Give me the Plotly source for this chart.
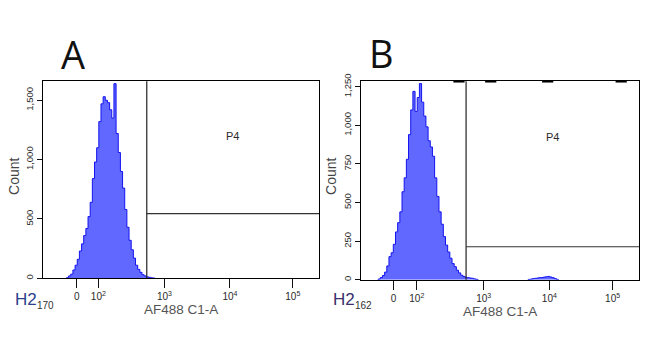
import numpy as np
import plotly.graph_objects as go

# ---------------------------------------------------------------
# Histogram data: counts per display channel (128 channels across
# the biexponential AF488 axis)
# ---------------------------------------------------------------
N_CH = 128

a_start = 11
a_counts = [5, 20, 35, 70, 110, 160, 230, 290, 360, 420,
            520, 640, 840, 980, 1100, 1320, 1470, 1530, 1500, 1480,
            1420, 1350, 1640, 1220, 1060, 900, 760, 580, 430, 320,
            240, 170, 110, 75, 50, 30, 20, 12, 8, 4, 2]

b_start = 8
b_counts = [5, 15, 28, 50, 90, 150, 175, 230, 310, 370,
            440, 570, 660, 780, 940, 1100, 1220, 1090, 1180, 1270,
            1150, 1060, 990, 900, 860, 800, 660, 540, 440, 360,
            280, 225, 180, 140, 105, 85, 62, 45, 30, 22,
            16, 14, 12, 10, 6, 3]

b2_start = 77
b2_counts = [3, 5, 8, 10, 12, 14, 15, 18, 20, 22, 18, 14, 8, 3]

# off-scale event markers along the top of panel B (channel)
b_top_marks = [45.2, 59.8, 86.0, 119.8]

# P4 gate: lower bound (data units) and marker height (counts)
gate_low = 560
gate_height_a = 545
gate_height_b = 214

# axis settings
y_max_a = 1660
y_max_b = 1285
major_vals = [0, 100, 1000, 10000, 100000]
major_text = ["0", "10<sup>2</sup>", "10<sup>3</sup>", "10<sup>4</sup>", "10<sup>5</sup>"]
minor_vals = ([-v for v in range(10, 101, 10)] + list(range(10, 100, 10))
              + list(range(200, 1000, 100)) + list(range(2000, 10000, 1000))
              + list(range(20000, 100000, 10000)) + [200000])


# ---------------------------------------------------------------
# Logicle (biexponential) display transform
# ---------------------------------------------------------------
def logicle(T=262144.0, W=0.5, M=4.42, A=0.0):
    w = W / (M + A)
    x2 = A / (M + A)
    x1 = x2 + w
    x0 = x2 + 2 * w
    b = (M + A) * np.log(10)
    lo, hi = 1e-9, b
    for _ in range(200):
        mid = 0.5 * (lo + hi)
        if 2 * (np.log(mid) - np.log(b)) + w * (b + mid) > 0:
            hi = mid
        else:
            lo = mid
    d = 0.5 * (lo + hi)
    c_a = np.exp(x0 * (b + d))
    mf_a = np.exp(b * x1) - c_a / np.exp(d * x1)
    a = T / ((np.exp(b) - mf_a) - c_a / np.exp(d))
    c = c_a * a
    f = -mf_a * a

    def S(x):
        x = np.asarray(x, float)
        xr = np.where(x >= x1, x, 2 * x1 - x)
        val = a * np.exp(b * xr) - c * np.exp(-d * xr) + f
        return np.where(x >= x1, val, -val)

    grid = np.linspace(0.0, 1.0, 40001)
    sv = S(grid)

    def to_channel(v):
        return np.interp(np.asarray(v, float), sv, grid) * N_CH

    return to_channel


to_ch_a = logicle(W=0.545)
to_ch_b = logicle(W=0.52)


def step_xy(start, counts):
    xs = [start] + [start + i for i in range(len(counts) + 1)]
    ys = [0] + list(counts) + [0]
    return xs, ys


W_PX, H_PX = 650, 337


def px(xp):
    return xp / W_PX


def py(yp):
    return 1 - yp / H_PX


FILL = "rgba(96,104,255,1)"
EDGE = "#1414f0"
INK = "#2a2a2a"
TICK = "#111111"
FONT = "Liberation Sans, Arial, sans-serif"

# panel frames (pixels)
A_FRAME = dict(left=42.7, right=319, top=75.3, bottom=277.7)
B_FRAME = dict(left=360.7, right=639, top=75.3, bottom=279.3)

X_MAJOR_LEN, X_MINOR_LEN, Y_TICK_LEN = 9, 5, 5

fig = go.Figure()

for (start, counts, xa, ya) in [(a_start, a_counts, "x", "y"),
                                 (b_start, b_counts, "x2", "y2"),
                                 (b2_start, b2_counts, "x2", "y2")]:
    xs, ys = step_xy(start, counts)
    fig.add_trace(go.Scatter(x=xs, y=ys, mode="lines", line_shape="hv",
                             line=dict(color=EDGE, width=1), fill="tozeroy",
                             fillcolor=FILL, xaxis=xa, yaxis=ya,
                             showlegend=False, hoverinfo="skip"))

fig.add_trace(go.Scatter(x=b_top_marks, y=[y_max_b] * len(b_top_marks), mode="markers",
                         marker=dict(symbol="line-ew", size=8, line=dict(color="black", width=2.5)),
                         xaxis="x2", yaxis="y2", cliponaxis=False,
                         showlegend=False, hoverinfo="skip"))

# P4 gate lines
for to_ch, h, xr, yr in [(to_ch_a, gate_height_a, "x", "y"), (to_ch_b, gate_height_b, "x2", "y2")]:
    g = float(to_ch(gate_low))
    fig.add_shape(type="line", xref=xr, yref=yr + " domain", x0=g, x1=g, y0=0, y1=1,
                  line=dict(color="#222222", width=1.2))
    fig.add_shape(type="line", xref=xr, yref=yr, x0=g, x1=N_CH, y0=h, y1=h,
                  line=dict(color="#333333", width=1.1))


# ---------------------------------------------------------------
# Tick marks as line markers hanging outside the frame
# ---------------------------------------------------------------
def add_ticks(frame, to_ch, ymax, ystep, xa, ya):
    ppx_y = ymax / (frame["bottom"] - frame["top"])      # counts per pixel
    ppx_x = N_CH / (frame["right"] - frame["left"])      # channels per pixel
    for vals, ln in [(major_vals, X_MAJOR_LEN), (minor_vals, X_MINOR_LEN)]:
        xs = [float(v) for v in np.atleast_1d(to_ch(vals))]
        fig.add_trace(go.Scatter(
            x=xs, y=[-ln / 2 * ppx_y] * len(xs), mode="markers",
            marker=dict(symbol="line-ns", size=ln, line=dict(color=TICK, width=1.2)),
            xaxis=xa, yaxis=ya, cliponaxis=False, showlegend=False, hoverinfo="skip"))
    yv = list(range(0, ymax + 1, ystep))
    fig.add_trace(go.Scatter(
        x=[-Y_TICK_LEN / 2 * ppx_x] * len(yv), y=yv, mode="markers",
        marker=dict(symbol="line-ew", size=Y_TICK_LEN, line=dict(color=TICK, width=1.2)),
        xaxis=xa, yaxis=ya, cliponaxis=False, showlegend=False, hoverinfo="skip"))


add_ticks(A_FRAME, to_ch_a, y_max_a, 100, "x", "y")
add_ticks(B_FRAME, to_ch_b, y_max_b, 50, "x2", "y2")


def xaxis_cfg(frame, to_ch, anchor):
    return dict(domain=[px(frame["left"]), px(frame["right"])], anchor=anchor,
                range=[0, N_CH], showgrid=False,
                zeroline=False, showline=True, linecolor="black", linewidth=1, mirror=True,
                tickmode="array", tickvals=list(to_ch(major_vals)), ticktext=major_text,
                ticks="outside", ticklen=X_MAJOR_LEN, tickwidth=1, tickcolor=TICK,
                tickfont=dict(family=FONT, size=10, color=INK), fixedrange=True)


def yaxis_cfg(frame, ymax, dmaj, anchor):
    return dict(domain=[py(frame["bottom"]), py(frame["top"])], anchor=anchor,
                range=[0, ymax], showgrid=False,
                zeroline=False, showline=True, linecolor="black", linewidth=1, mirror=True,
                tickmode="linear", tick0=0, dtick=dmaj, tickformat=",d",
                ticks="outside", ticklen=Y_TICK_LEN, tickwidth=1, tickcolor=TICK,
                tickangle=-90, tickfont=dict(family=FONT, size=9.5, color=INK), fixedrange=True)


fig.update_layout(
    width=W_PX, height=H_PX, margin=dict(l=0, r=0, t=0, b=0),
    paper_bgcolor="white", plot_bgcolor="white",
    xaxis=xaxis_cfg(A_FRAME, to_ch_a, "y"),
    yaxis=yaxis_cfg(A_FRAME, y_max_a, 500, "x"),
    xaxis2=xaxis_cfg(B_FRAME, to_ch_b, "y2"),
    yaxis2=yaxis_cfg(B_FRAME, y_max_b, 250, "x2"),
)

ann = []


def text(x, y, s, size, color=INK, family=FONT, angle=0, xanchor="center"):
    ann.append(dict(x=px(x), y=py(y), xref="paper", yref="paper", text=s, showarrow=False,
                    xanchor=xanchor, yanchor="middle", textangle=angle,
                    font=dict(family=family, size=size, color=color)))


# panel letters
text(73.3, 47, "A", 38, color="#111", family="Open Sans, sans-serif")
text(381.7, 46, "B", 38, color="#111", family="Open Sans, sans-serif")
# gate names
text(232.7, 131.7, "P4", 11)
text(552.7, 132.3, "P4", 11)
# axis titles
text(180.9, 309.5, "AF488 C1-A", 13.5, color="#555")
text(499.9, 311.5, "AF488 C1-A", 13.5, color="#555")
text(14.5, 173, "Count", 14, color="#444", angle=-90)
text(331.5, 173, "Count", 14, color="#444", angle=-90)
# specimen labels
text(12.5, 299.5, "H2", 17, color="#2b3f8c", xanchor="left")
text(35, 305.5, "170", 10, color="#333", xanchor="left")
text(331, 300, "H2", 17, color="#3a2f6a", xanchor="left")
text(353, 306, "162", 10, color="#333", xanchor="left")

fig.update_layout(annotations=ann)

fig.write_html("out.html")
